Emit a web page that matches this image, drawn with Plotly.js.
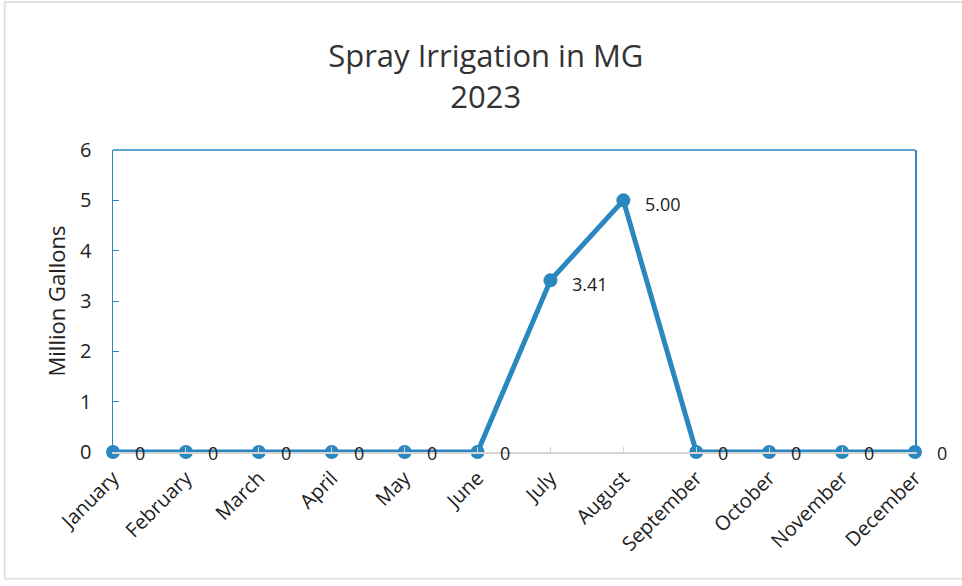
<!DOCTYPE html>
<html>
<head>
<meta charset="utf-8">
<script src="https://cdn.plot.ly/plotly-3.0.1.min.js"></script>
<style>html,body{margin:0;padding:0;background:#fff;}#chart{width:962px;height:586px;}</style>
</head>
<body>
<div id="chart"></div>
<script>
const months = ["January","February","March","April","May","June","July","August","September","October","November","December"];
const values = [0,0,0,0,0,0,3.41,5.00,0,0,0,0];
const yTicks = [0,1,2,3,4,5,6];

const blue = '#2b87bf';
const FONT = 'Open Sans, sans-serif';
const labels = values.map(v => v === 0 ? '0' : v.toFixed(2));

const trace = {
  x: months,
  y: values,
  type: 'scatter',
  mode: 'lines+markers',
  line: {color: blue, width: 5},
  marker: {color: blue, size: 14},
  cliponaxis: false,
  hoverinfo: 'skip'
};

const annotations = months.map((m, i) => ({
  x: m, y: values[i], xref: 'x', yref: 'y',
  text: labels[i], showarrow: false,
  xanchor: 'left', yanchor: 'middle',
  xshift: 20, yshift: values[i] === 0 ? -1 : -4,
  font: {family: FONT, size: 18, color: '#222'}
}));

const layout = {
  width: 962,
  height: 586,
  margin: {l: 113, r: 47, t: 150, b: 134},
  paper_bgcolor: '#fff',
  plot_bgcolor: '#fff',
  showlegend: false,
  font: {family: FONT, color: '#222'},
  title: {
    text: 'Spray Irrigation in MG<br>2023',
    font: {family: FONT, size: 31, color: '#333'},
    x: 0.505, xanchor: 'center',
    y: 0.885, yanchor: 'top'
  },
  xaxis: {
    type: 'category',
    range: [0, 11],
    showgrid: false,
    zeroline: false,
    showline: true,
    linecolor: '#d4d4d4',
    linewidth: 1.5,
    ticks: 'inside',
    ticklen: 5,
    tickcolor: '#d4d4d4',
    tickangle: -45,
    ticklabelstandoff: 5,
    tickfont: {family: FONT, size: 20, color: '#222'},
    fixedrange: true
  },
  yaxis: {
    range: [0, 6],
    tickvals: yTicks,
    ticktext: yTicks.map(String),
    showgrid: false,
    zeroline: false,
    showline: true,
    mirror: true,
    linecolor: blue,
    linewidth: 1.5,
    ticks: 'inside',
    ticklen: 6,
    tickcolor: blue,
    ticklabelstandoff: 16,
    tickfont: {family: FONT, size: 20, color: '#222'},
    title: {text: 'Million Gallons', font: {family: FONT, size: 22, color: '#222'}, standoff: 8},
    fixedrange: true
  },
  annotations: annotations,
  shapes: [
    {type: 'line', xref: 'paper', yref: 'paper', x0: 0, x1: 1, y0: 1, y1: 1, line: {color: blue, width: 1.5}},
    {type: 'rect', xref: 'paper', yref: 'paper', x0: -0.135, x1: 1.06, y0: -0.42, y1: 1.49, line: {color: '#e2e2e2', width: 2}, layer: 'below'}
  ]
};

Plotly.newPlot('chart', [trace], layout, {displayModeBar: false, staticPlot: true});
</script>
</body>
</html>
